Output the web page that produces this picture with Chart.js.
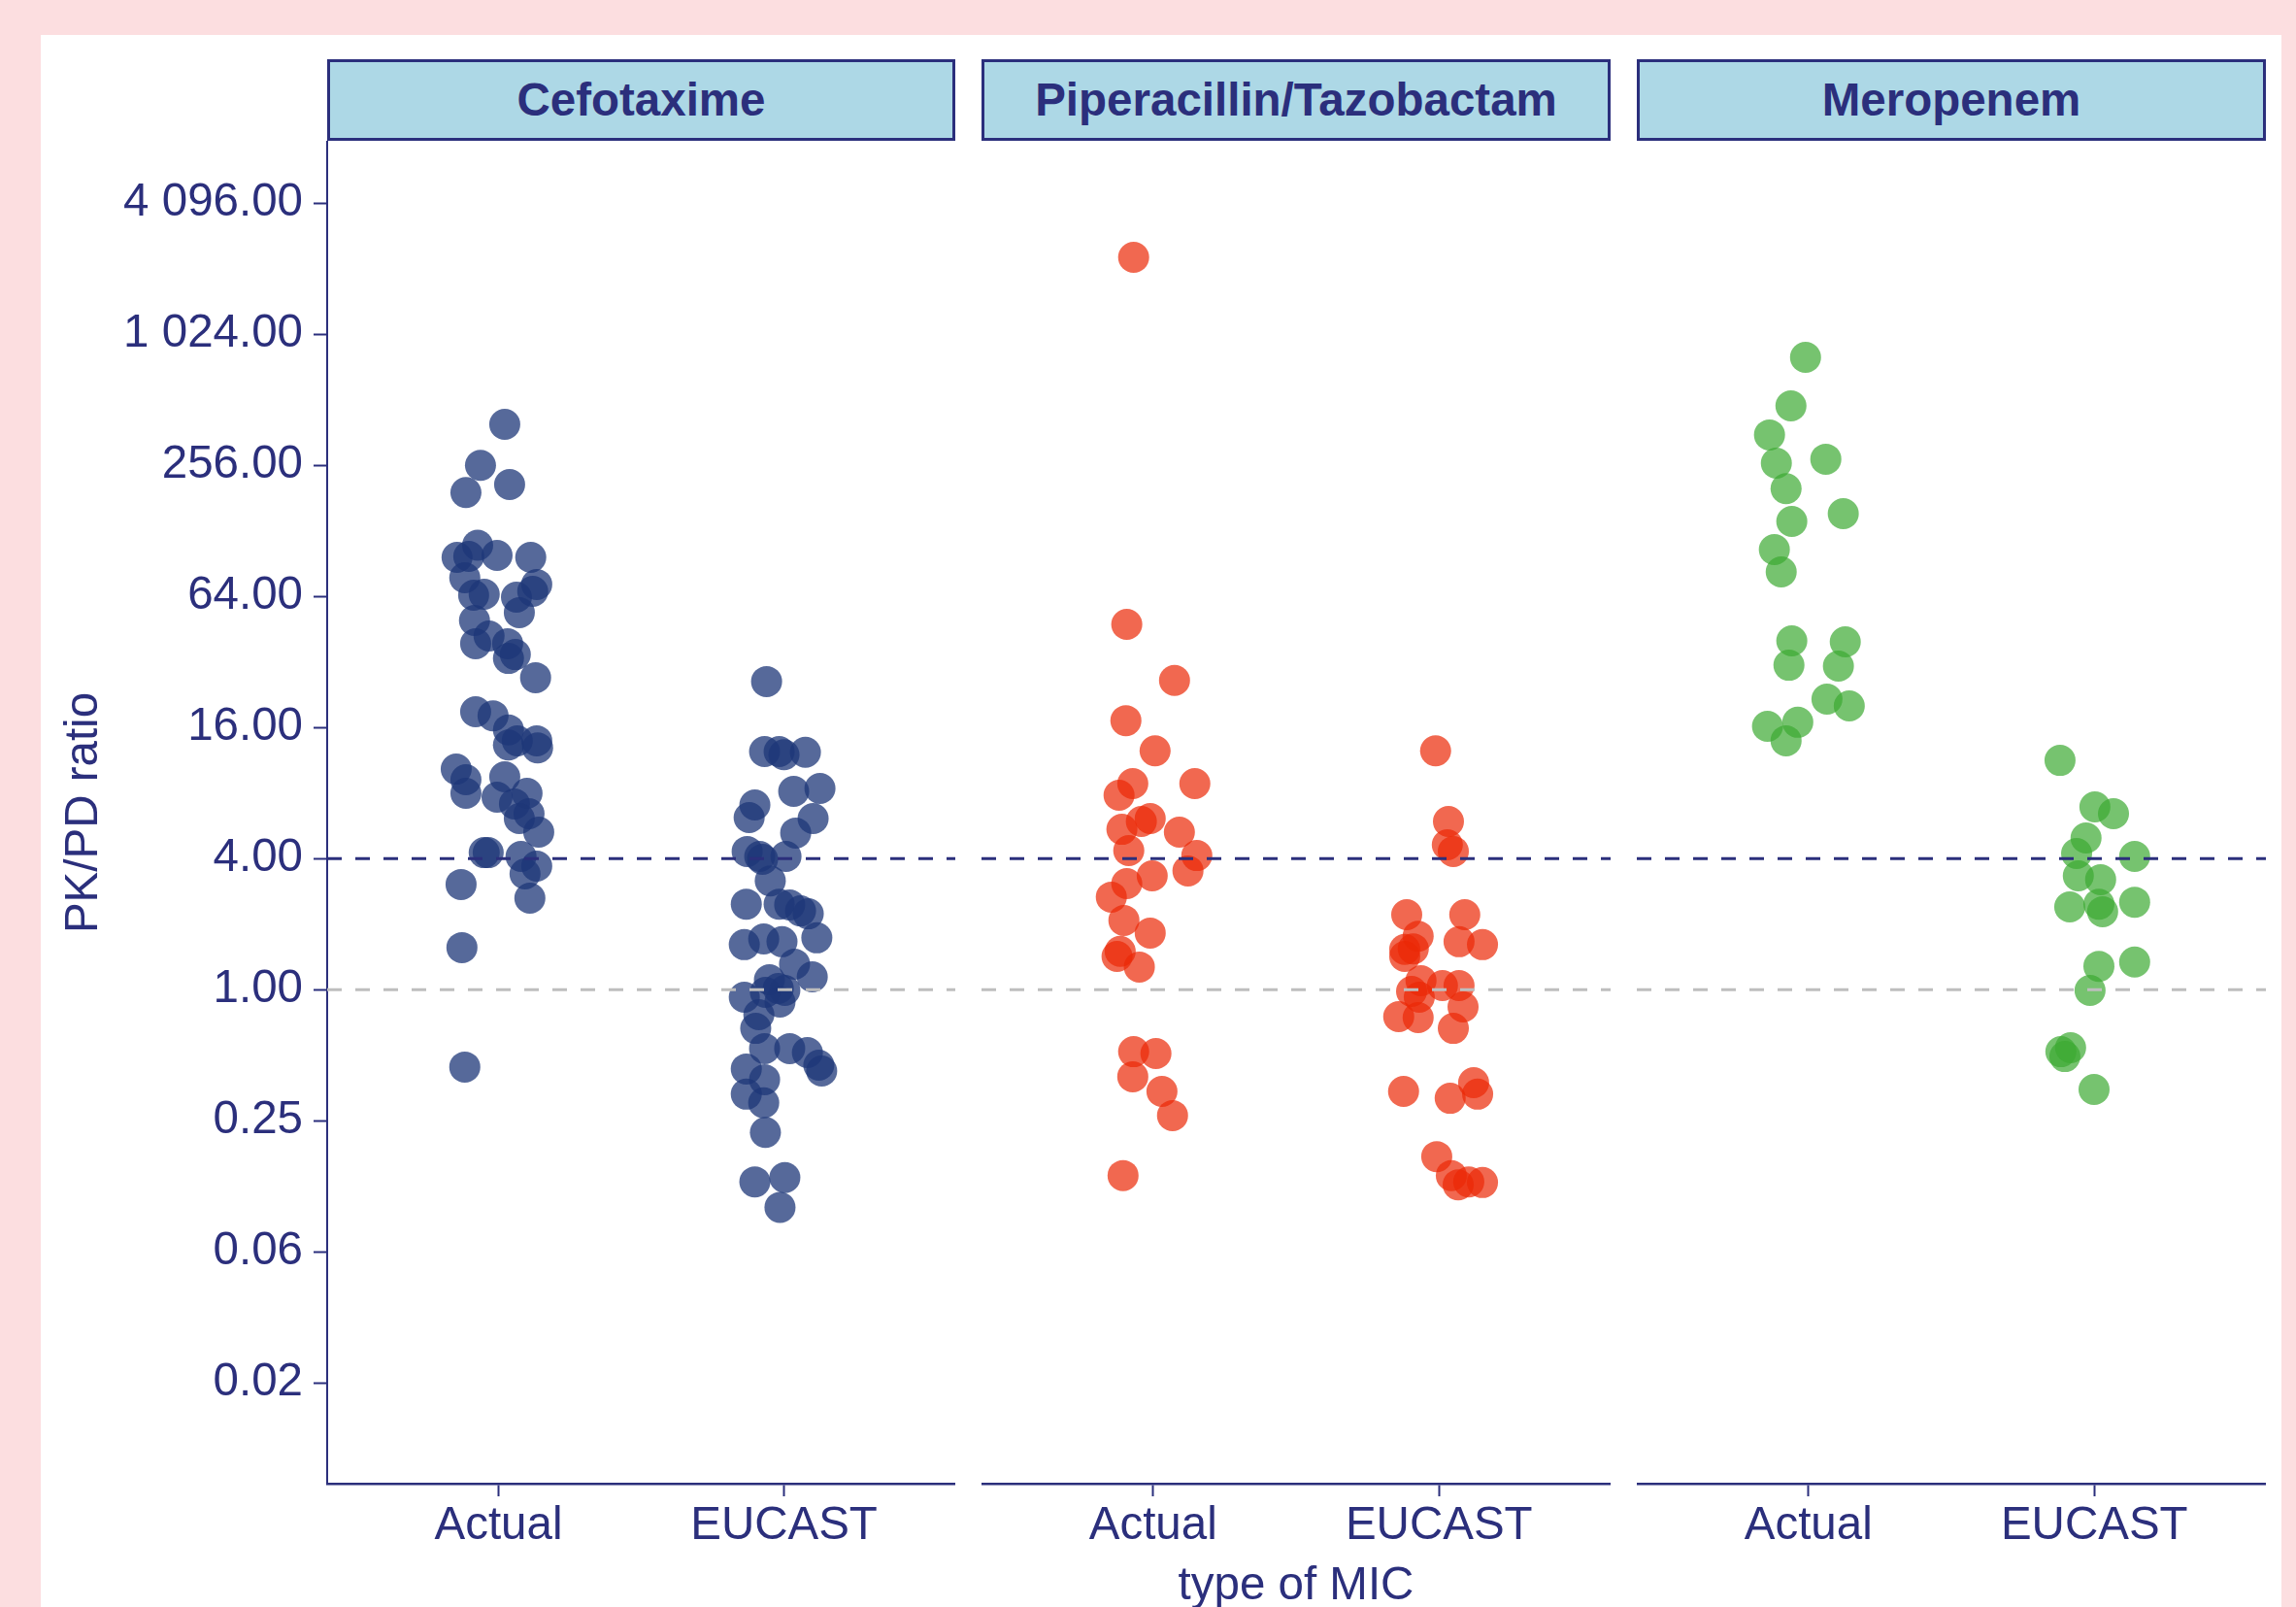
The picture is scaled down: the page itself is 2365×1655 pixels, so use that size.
<!DOCTYPE html>
<html>
<head>
<meta charset="utf-8">
<script src="https://cdn.jsdelivr.net/npm/chart.js@4.4.1/dist/chart.umd.min.js"></script>
<style>
html,body{margin:0;padding:0;}
body{width:2365px;height:1655px;background:#FCDEE0;position:relative;overflow:hidden;font-family:"Liberation Sans",Arial,Helvetica,sans-serif;color:#2B2F7C;}
#panel{position:absolute;left:42px;top:36px;width:2308px;height:1640px;background:#ffffff;}
canvas{position:absolute;top:145px;}
.strip{position:absolute;top:61px;height:84px;box-sizing:border-box;border:3px solid #2B2F7C;background:#ADD8E6;color:#2B2F7C;font-weight:bold;font-size:47.5px;line-height:48px;display:flex;align-items:center;justify-content:center;white-space:nowrap;}
.title{position:absolute;font-size:47.5px;line-height:48px;height:48px;text-align:center;white-space:nowrap;color:#2B2F7C;}
</style>
</head>
<body>
<div id="panel"></div>
<div class="strip" id="s0" style="left:337px;width:647px;"></div>
<div class="strip" id="s1" style="left:1011px;width:648px;"></div>
<div class="strip" id="s2" style="left:1686px;width:648px;"></div>
<canvas id="c0" width="924" height="1510" style="left:60px;"></canvas>
<canvas id="c1" width="648" height="1510" style="left:1011px;"></canvas>
<canvas id="c2" width="648" height="1510" style="left:1686px;"></canvas>
<div class="title" id="ytitle" style="left:-216px;top:813px;width:600px;transform:rotate(-90deg);"></div>
<div class="title" id="xtitle" style="left:1035px;top:1607px;width:600px;"></div>
<script>
// ---------------- data ----------------
const drugs = ["Cefotaxime", "Piperacillin/Tazobactam", "Meropenem"];
const categories = ["Actual", "EUCAST"];
const yAxisTitle = "PK/PD ratio";
const xAxisTitle = "type of MIC";
const yTicks = [0.015625, 0.0625, 0.25, 1, 4, 16, 64, 256, 1024, 4096];
const refLines = [4, 1];

// Cefotaxime
const cefActualY = [395, 256, 192, 209, 110, 96.7, 97.7, 98.7, 96.7, 77.9, 64.8, 65.5, 63.5, 72.6, 67.5, 53.9, 49.6, 42.1, 38.8, 38.8, 33.2, 34.6, 27.1, 18.9, 18.1, 15.6, 13.3, 13.9, 13.9, 12.9, 10.3, 9.21, 7.98, 9.50, 7.65, 7.98, 7.13, 6.43, 6.11, 5.29, 4.26, 4.26, 4.09, 3.69, 3.40, 3.04, 2.63, 1.56, 0.441];
const cefActualJit = [0.022, -0.063, -0.114, 0.039, -0.073, -0.145, -0.104, -0.005, 0.113, -0.118, -0.087, -0.050, 0.063, 0.134, 0.120, 0.073, -0.084, -0.033, -0.080, 0.032, 0.035, 0.059, 0.130, -0.080, -0.019, 0.035, 0.035, 0.066, 0.134, 0.137, -0.148, -0.114, -0.114, 0.022, -0.005, 0.100, 0.056, 0.107, 0.073, 0.141, -0.050, -0.036, 0.079, 0.134, 0.093, -0.131, 0.110, -0.128, -0.118];
const cefEucastY = [26.0, 12.4, 12.4, 12.0, 12.3, 8.14, 8.40, 7.05, 6.17, 6.11, 5.24, 4.31, 4.09, 3.97, 4.09, 3.16, 2.47, 2.47, 2.45, 2.30, 2.23, 1.73, 1.61, 1.71, 1.66, 1.31, 1.145, 1.11, 0.923, 0.972, 1.012, 0.992, 0.877, 0.767, 0.664, 0.536, 0.536, 0.514, 0.450, 0.423, 0.432, 0.386, 0.331, 0.302, 0.221, 0.131, 0.137, 0.100];
const cefEucastJit = [-0.061, -0.068, -0.017, 0, 0.075, 0.034, 0.126, -0.102, -0.122, 0.102, 0.041, -0.129, -0.085, -0.075, 0.007, -0.048, -0.132, -0.017, 0.020, 0.058, 0.085, 0.115, -0.139, -0.071, -0.007, 0.037, 0.099, -0.051, -0.139, -0.065, -0.020, 0.003, -0.014, -0.088, -0.099, -0.068, 0.020, 0.082, 0.122, 0.132, -0.132, -0.068, -0.132, -0.071, -0.065, -0.102, 0.003, -0.014];

// Piperacillin/Tazobactam
const pipActualY = [2309, 47.6, 26.3, 17.2, 12.5, 8.84, 7.81, 8.84, 5.45, 5.92, 6.11, 5.29, 4.35, 4.13, 3.51, 3.33, 3.07, 2.66, 2.08, 1.82, 1.42, 1.50, 1.27, 0.519, 0.509, 0.398, 0.341, 0.264, 0.140];
const pipActualJit = [-0.068, -0.092, 0.075, -0.095, 0.007, -0.071, -0.119, 0.146, -0.109, -0.041, -0.010, 0.092, -0.085, 0.153, 0.122, -0.003, -0.092, -0.146, -0.102, -0.010, -0.126, -0.115, -0.048, -0.068, 0.010, -0.071, 0.031, 0.068, -0.105];
const pipEucastY = [12.5, 5.92, 4.63, 4.31, 2.21, 2.21, 1.76, 1.53, 1.54, 1.42, 1.66, 1.61, 1.10, 1.044, 1.044, 0.982, 0.923, 0.833, 0.752, 0.744, 0.664, 0.341, 0.317, 0.374, 0.331, 0.171, 0.140, 0.127, 0.131, 0.130];
const pipEucastJit = [-0.012, 0.033, 0.029, 0.050, -0.113, 0.090, -0.073, -0.120, -0.090, -0.120, 0.070, 0.152, -0.063, 0.012, 0.070, -0.096, -0.069, 0.084, -0.141, -0.073, 0.050, -0.124, 0.039, 0.121, 0.135, -0.008, 0.043, 0.067, 0.104, 0.152];

// Meropenem
const meroActualY = [802, 480, 353, 262, 273, 200, 153.5, 141.4, 105, 82.9, 40.0, 39.6, 30.9, 30.6, 21.6, 20.1, 16.2, 16.9, 13.9];
const meroActualJit = [-0.010, -0.061, -0.136, -0.112, 0.061, -0.078, 0.122, -0.058, -0.119, -0.095, -0.058, 0.129, -0.068, 0.105, 0.065, 0.143, -0.143, -0.037, -0.078];
const meroEucastY = [11.3, 6.91, 6.43, 4.97, 4.22, 4.09, 3.33, 3.20, 2.40, 2.47, 2.28, 2.52, 1.28, 1.34, 0.992, 0.519, 0.541, 0.493, 0.348];
const meroEucastJit = [-0.120, 0.002, 0.067, -0.029, -0.062, 0.141, -0.056, 0.022, -0.086, 0.016, 0.029, 0.141, 0.016, 0.141, -0.015, -0.117, -0.083, -0.103, -0.001];

// ---------------- styling ----------------
const NAVY = '#2B2F7C';
const FONT = '"Liberation Sans", Arial, Helvetica, sans-serif';
const FS = 47.5;
const X_MIN = -0.6, X_MAX = 1.6;
const Y_MIN = 0.005381, Y_MAX = 7919;
const panels = [
  { actual: [cefActualY, cefActualJit], eucast: [cefEucastY, cefEucastJit], color: 'rgba(30,55,120,0.75)' },
  { actual: [pipActualY, pipActualJit], eucast: [pipEucastY, pipEucastJit], color: 'rgba(235,40,5,0.7)' },
  { actual: [meroActualY, meroActualJit], eucast: [meroEucastY, meroEucastJit], color: 'rgba(60,170,50,0.7)' }
];
const refStyles = [
  { color: NAVY, dash: [15, 14] },
  { color: '#BEBEBE', dash: [15, 14] }
];

function fmt(v) {
  const s = v.toFixed(2);
  const parts = s.split('.');
  return parts[0].replace(/\B(?=(\d{3})+(?!\d))/g, ' ') + '.' + parts[1];
}

function pts(ys, jit, cat) {
  return ys.map((y, i) => ({ x: cat + jit[i], y: y }));
}

function makeChart(idx) {
  const p = panels[idx];
  const showY = idx === 0;
  const datasets = [];
  refLines.forEach((v, i) => {
    datasets.push({
      data: [{ x: X_MIN, y: v }, { x: X_MAX, y: v }],
      showLine: true, pointRadius: 0, pointHoverRadius: 0,
      borderColor: refStyles[i].color, borderWidth: 3, borderDash: refStyles[i].dash,
      borderCapStyle: 'butt', fill: false, order: 0
    });
  });
  [p.actual, p.eucast].forEach((d, cat) => {
    datasets.push({
      data: pts(d[0], d[1], cat),
      backgroundColor: p.color, borderWidth: 0, pointRadius: 16, pointHoverRadius: 16,
      pointBorderWidth: 0, order: 1, clip: false
    });
  });
  new Chart(document.getElementById('c' + idx), {
    type: 'scatter',
    data: { datasets: datasets },
    options: {
      responsive: false, animation: false, devicePixelRatio: 1,
      layout: { padding: 0, autoPadding: false },
      plugins: { legend: { display: false }, tooltip: { enabled: false } },
      events: [],
      scales: {
        x: {
          type: 'linear', min: X_MIN, max: X_MAX,
          afterBuildTicks: s => { s.ticks = categories.map((c, i) => ({ value: i })); },
          afterFit: s => { s.height = 127; s.paddingLeft = 0; s.paddingRight = 0; },
          ticks: { callback: v => categories[v], color: NAVY, font: { family: FONT, size: FS }, padding: 2, autoSkip: false, maxRotation: 0 },
          grid: { display: true, drawOnChartArea: false, drawTicks: true, tickLength: 13, tickColor: NAVY, tickWidth: 2 },
          border: { display: true, color: NAVY, width: 2.5 }
        },
        y: {
          type: 'logarithmic', min: Y_MIN, max: Y_MAX, display: showY,
          afterBuildTicks: s => { s.ticks = yTicks.map(v => ({ value: v })); },
          afterFit: s => { s.width = showY ? 277 : 0; s.paddingTop = 0; s.paddingBottom = 0; },
          ticks: { callback: v => fmt(v), color: NAVY, font: { family: FONT, size: FS }, padding: 11, autoSkip: false },
          grid: { display: true, drawOnChartArea: false, drawTicks: true, tickLength: 14, tickColor: NAVY, tickWidth: 2 },
          border: { display: true, color: NAVY, width: 2 }
        }
      }
    }
  });
}

drugs.forEach((d, i) => { document.getElementById('s' + i).textContent = d; });
document.getElementById('ytitle').textContent = yAxisTitle;
document.getElementById('xtitle').textContent = xAxisTitle;
[0, 1, 2].forEach(makeChart);
</script>
</body>
</html>
